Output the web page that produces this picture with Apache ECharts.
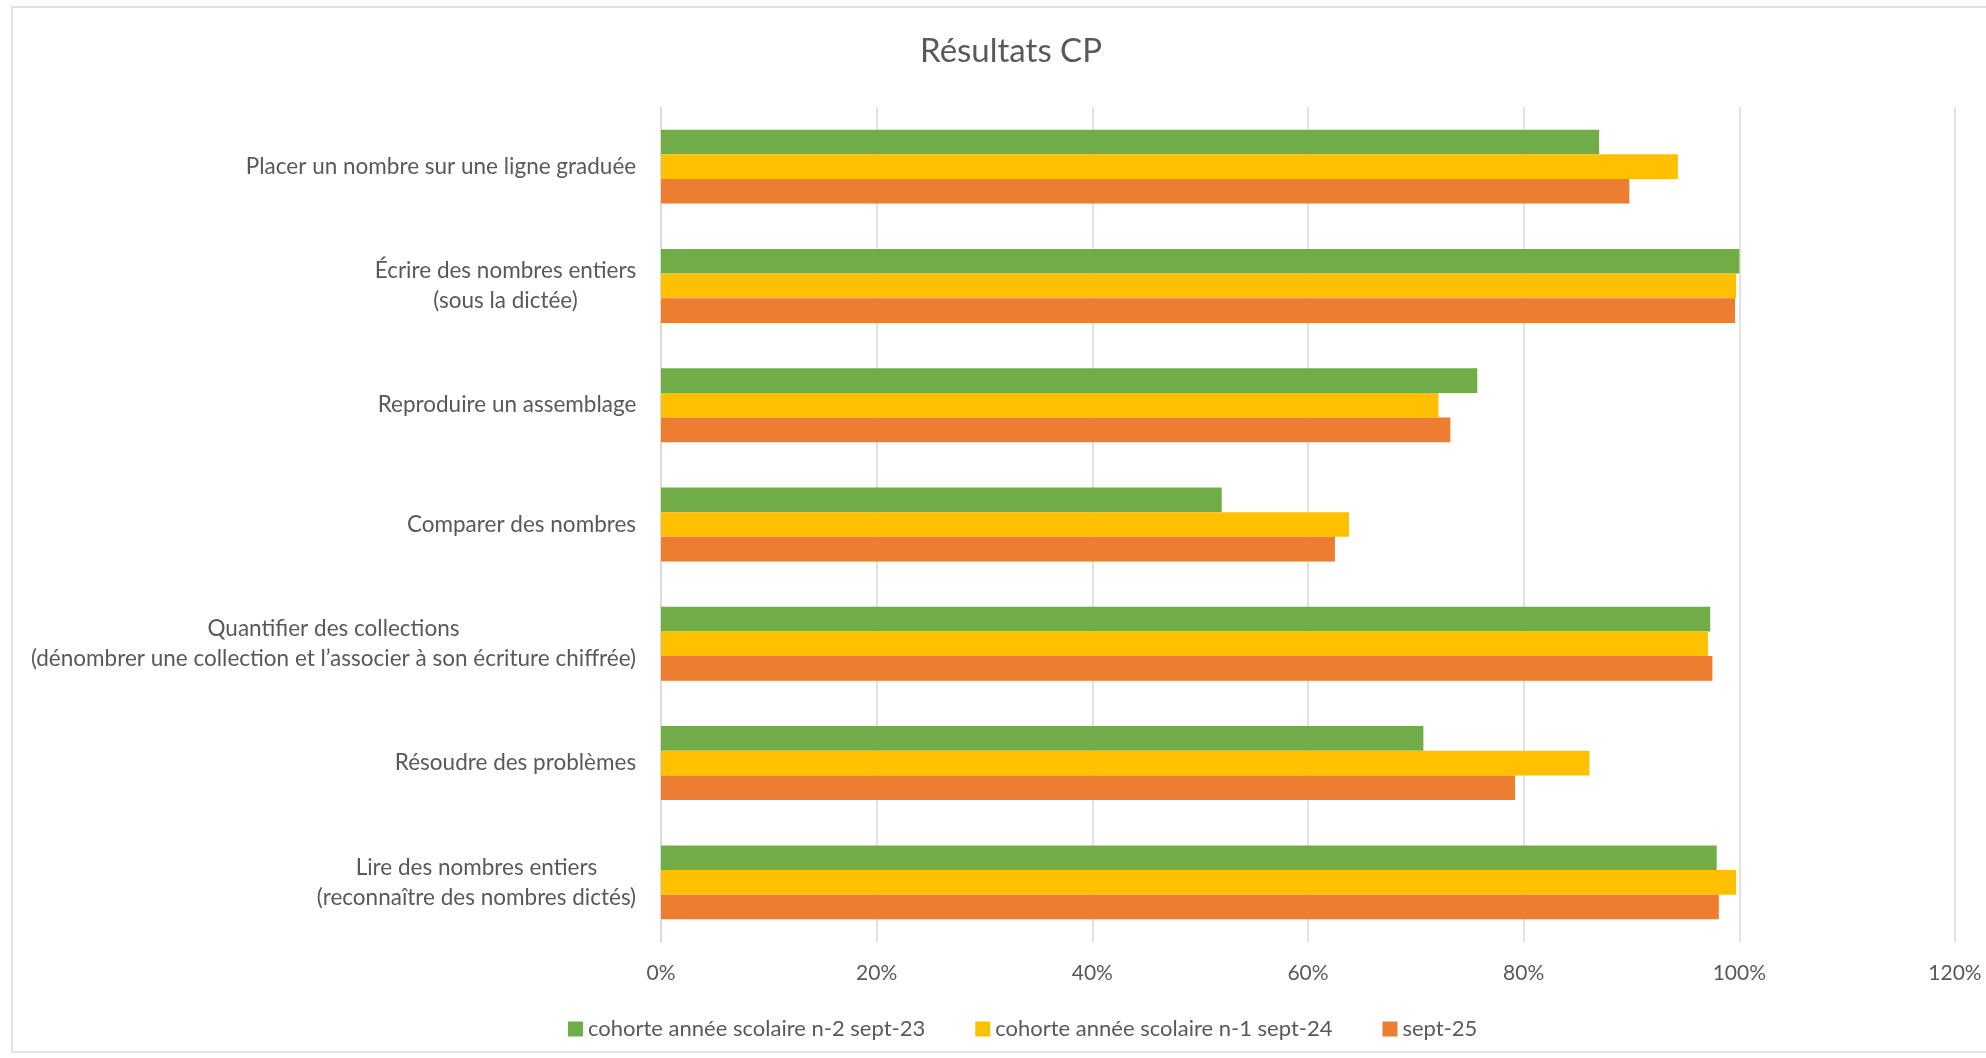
<!DOCTYPE html>
<html>
<head>
<meta charset="utf-8">
<script src="https://cdn.jsdelivr.net/npm/echarts@6/dist/echarts.min.js"></script>
<style>
html,body{margin:0;padding:0;background:#fff;}
#chart{width:1986px;height:1058px;}
</style>
</head>
<body>
<div id="chart"></div>
<script>
const categories = [
  "Placer un nombre sur une ligne graduée",
  "Écrire des nombres entiers\n(sous la dictée)",
  "Reproduire un assemblage",
  "Comparer des nombres",
  "Quantifier des collections\n(dénombrer une collection et l’associer à son écriture chiffrée)",
  "Résoudre des problèmes",
  "Lire des nombres entiers\n(reconnaître des nombres dictés)"
];
const seriesNames = [
  "cohorte année scolaire n-2 sept-23",
  "cohorte année scolaire n-1 sept-24",
  "sept-25"
];
const sept23 = [87.0, 100.0, 75.7, 52.0, 97.3, 70.7, 97.9];
const sept24 = [94.3, 99.7, 72.1, 63.8, 97.1, 86.1, 99.7];
const sept25 = [89.8, 99.6, 73.2, 62.5, 97.5, 79.2, 98.1];
const xTicks = [0, 20, 40, 60, 80, 100, 120];

const FONT = 'Lato';
const TXT = '#595959';
const LABEL_SIZE = 22.5;

// measure multi-line labels so lines are centred within a right-aligned block
const cv = document.createElement('canvas').getContext('2d');
cv.font = LABEL_SIZE + 'px ' + FONT;
const rich = {};
categories.forEach((c, i) => {
  const w = Math.max(...c.split('\n').map(l => cv.measureText(l).width));
  rich['l' + i] = { width: Math.ceil(w) + 1, align: 'center', fontSize: LABEL_SIZE, fontFamily: FONT, color: TXT, lineHeight: 30 };
});

const chart = echarts.init(document.getElementById('chart'));
const colors = ['#70AD47', '#FFC000', '#ED7D31'];
const data = [sept23, sept24, sept25];

chart.setOption({
  animation: false,
  textStyle: { fontFamily: FONT },
  graphic: [{
    type: 'rect',
    shape: { x: 12, y: 7, width: 1990, height: 1045 },
    style: { fill: 'none', stroke: '#d9d9d9', lineWidth: 1.5 },
    silent: true
  }],
  title: {
    text: 'Résultats CP',
    left: 1011,
    textAlign: 'center',
    top: 35,
    padding: 0,
    textStyle: { fontSize: 33, fontWeight: 'normal', color: TXT, fontFamily: FONT }
  },
  legend: {
    left: 563,
    top: 1013,
    itemWidth: 15,
    itemHeight: 15,
    itemGap: 50,
    icon: 'rect',
    textStyle: { fontSize: 22, color: TXT, fontFamily: FONT, padding: [0, 0, 0, 0] },
    data: seriesNames
  },
  grid: { left: 661, right: 31, top: 107, bottom: 116, containLabel: false },
  xAxis: {
    type: 'value',
    min: xTicks[0],
    max: xTicks[xTicks.length - 1],
    interval: xTicks[1] - xTicks[0],
    axisLine: { show: false },
    axisTick: { show: false },
    splitLine: { lineStyle: { color: '#d9d9d9', width: 1.5 } },
    axisLabel: { formatter: '{value}%', fontSize: 21, color: TXT, fontFamily: FONT, margin: 21 }
  },
  yAxis: {
    type: 'category',
    inverse: true,
    data: categories,
    axisLine: { show: true, lineStyle: { color: '#d9d9d9', width: 1.5 } },
    axisTick: { show: false },
    axisLabel: {
      margin: 24,
      align: 'right',
      fontSize: LABEL_SIZE,
      color: TXT,
      fontFamily: FONT,
      formatter: (v, i) => v.split('\n').map(l => '{l' + i + '|' + l + '}').join('\n'),
      rich: rich
    }
  },
  series: seriesNames.map((n, k) => ({
    name: n,
    type: 'bar',
    data: data[k],
    barGap: '0%',
    barCategoryGap: '38%',
    itemStyle: { color: colors[k] }
  }))
});
</script>
</body>
</html>
